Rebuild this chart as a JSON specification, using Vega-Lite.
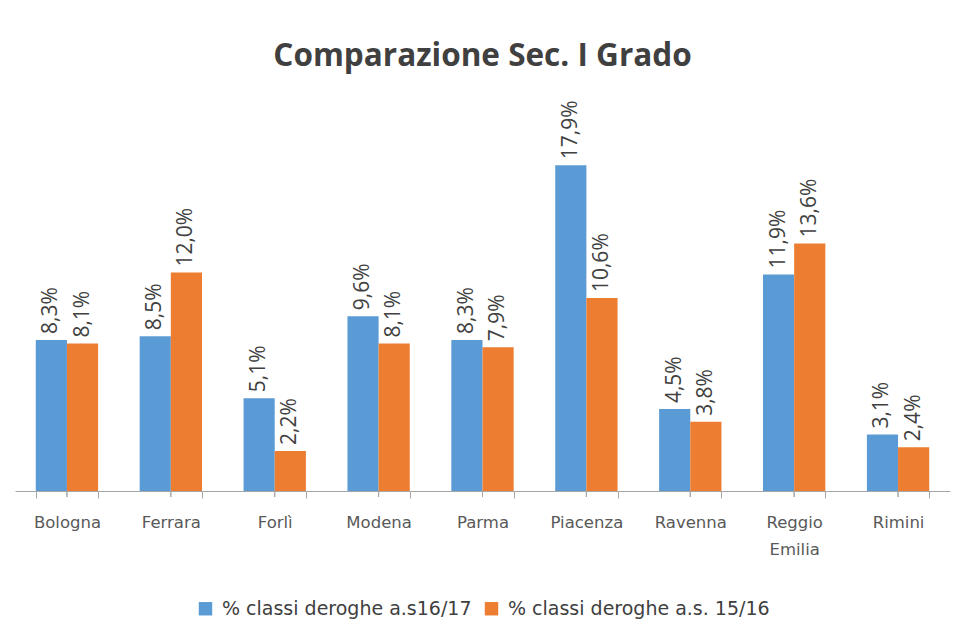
{
  "$schema": "https://vega.github.io/schema/vega-lite/v6.json",
  "width": 935,
  "height": 364,
  "autosize": {"type": "none"},
  "padding": {"left": 15, "top": 127, "right": 4, "bottom": 134},
  "background": "white",
  "title": {
    "text": "Comparazione Sec. I Grado",
    "font": "Open Sans",
    "fontSize": 31.5,
    "fontWeight": "bold",
    "color": "#404040",
    "baseline": "alphabetic",
    "offset": 3,
    "anchor": "middle"
  },
  "data": {
    "values": [
      {"provincia": "Bologna", "serie": "% classi deroghe a.s16/17", "valore": 0.083},
      {"provincia": "Bologna", "serie": "% classi deroghe a.s. 15/16", "valore": 0.081},
      {"provincia": "Ferrara", "serie": "% classi deroghe a.s16/17", "valore": 0.085},
      {"provincia": "Ferrara", "serie": "% classi deroghe a.s. 15/16", "valore": 0.120},
      {"provincia": "Forlì", "serie": "% classi deroghe a.s16/17", "valore": 0.051},
      {"provincia": "Forlì", "serie": "% classi deroghe a.s. 15/16", "valore": 0.022},
      {"provincia": "Modena", "serie": "% classi deroghe a.s16/17", "valore": 0.096},
      {"provincia": "Modena", "serie": "% classi deroghe a.s. 15/16", "valore": 0.081},
      {"provincia": "Parma", "serie": "% classi deroghe a.s16/17", "valore": 0.083},
      {"provincia": "Parma", "serie": "% classi deroghe a.s. 15/16", "valore": 0.079},
      {"provincia": "Piacenza", "serie": "% classi deroghe a.s16/17", "valore": 0.179},
      {"provincia": "Piacenza", "serie": "% classi deroghe a.s. 15/16", "valore": 0.106},
      {"provincia": "Ravenna", "serie": "% classi deroghe a.s16/17", "valore": 0.045},
      {"provincia": "Ravenna", "serie": "% classi deroghe a.s. 15/16", "valore": 0.038},
      {"provincia": "Reggio Emilia", "serie": "% classi deroghe a.s16/17", "valore": 0.119},
      {"provincia": "Reggio Emilia", "serie": "% classi deroghe a.s. 15/16", "valore": 0.136},
      {"provincia": "Rimini", "serie": "% classi deroghe a.s16/17", "valore": 0.031},
      {"provincia": "Rimini", "serie": "% classi deroghe a.s. 15/16", "valore": 0.024}
    ]
  },
  "encoding": {
    "x": {
      "field": "provincia",
      "type": "nominal",
      "sort": null,
      "scale": {"paddingInner": 0.4, "paddingOuter": 0.2},
      "axis": {
        "title": null,
        "labelAngle": 0,
        "labelFont": "DejaVu Sans",
        "labelFontSize": 16.5,
        "labelColor": "#595959",
        "labelPadding": 16,
        "labelLineHeight": 27,
        "labelExpr": "datum.label == 'Reggio Emilia' ? ['Reggio', 'Emilia'] : datum.label",
        "tickBand": "extent",
        "tickSize": 7,
        "tickColor": "#A6A6A6",
        "domainColor": "#A6A6A6",
        "grid": false
      }
    },
    "y": {
      "field": "valore",
      "type": "quantitative",
      "scale": {"domain": [0, 0.2]},
      "axis": null
    }
  },
  "layer": [
    {
      "mark": {"type": "bar"},
      "encoding": {
        "xOffset": {
          "field": "serie",
          "type": "nominal",
          "scale": {"domain": ["% classi deroghe a.s16/17", "% classi deroghe a.s. 15/16"], "paddingInner": 0, "paddingOuter": 0}
        },
        "color": {
          "field": "serie",
          "type": "nominal",
          "scale": {"domain": ["% classi deroghe a.s16/17", "% classi deroghe a.s. 15/16"], "range": ["#5B9BD5", "#ED7D31"]},
          "legend": {
            "title": null,
            "orient": "none",
            "legendX": 181,
            "legendY": 472,
            "direction": "horizontal",
            "symbolType": "square",
            "symbolSize": 180,
            "symbolStrokeWidth": 0,
            "labelFont": "DejaVu Sans",
            "labelFontSize": 19,
            "labelColor": "#404040",
            "labelLimit": 400,
            "labelOffset": 7,
            "columnPadding": 10
          }
        }
      }
    },
    {
      "mark": {"type": "text", "angle": 270, "align": "left", "baseline": "middle", "dx": 6, "font": "Open Sans", "fontSize": 21, "color": "#404040"},
      "encoding": {
        "xOffset": {
          "field": "serie",
          "type": "nominal",
          "scale": {"domain": ["% classi deroghe a.s16/17", "% classi deroghe a.s. 15/16"], "paddingInner": 0, "paddingOuter": 0}
        },
        "text": {"field": "valore", "type": "quantitative", "format": ".1%"}
      }
    },
    {
      "mark": {"type": "rule", "color": "#A6A6A6", "strokeWidth": 1, "y2Offset": 6},
      "encoding": {
        "y": {"datum": 0, "type": "quantitative", "scale": {"domain": [0, 0.2]}},
        "y2": {"datum": 0}
      }
    }
  ],
  "config": {
    "view": {"stroke": null},
    "locale": {"number": {"decimal": ",", "thousands": ".", "grouping": [3], "currency": ["", " €"]}}
  }
}
